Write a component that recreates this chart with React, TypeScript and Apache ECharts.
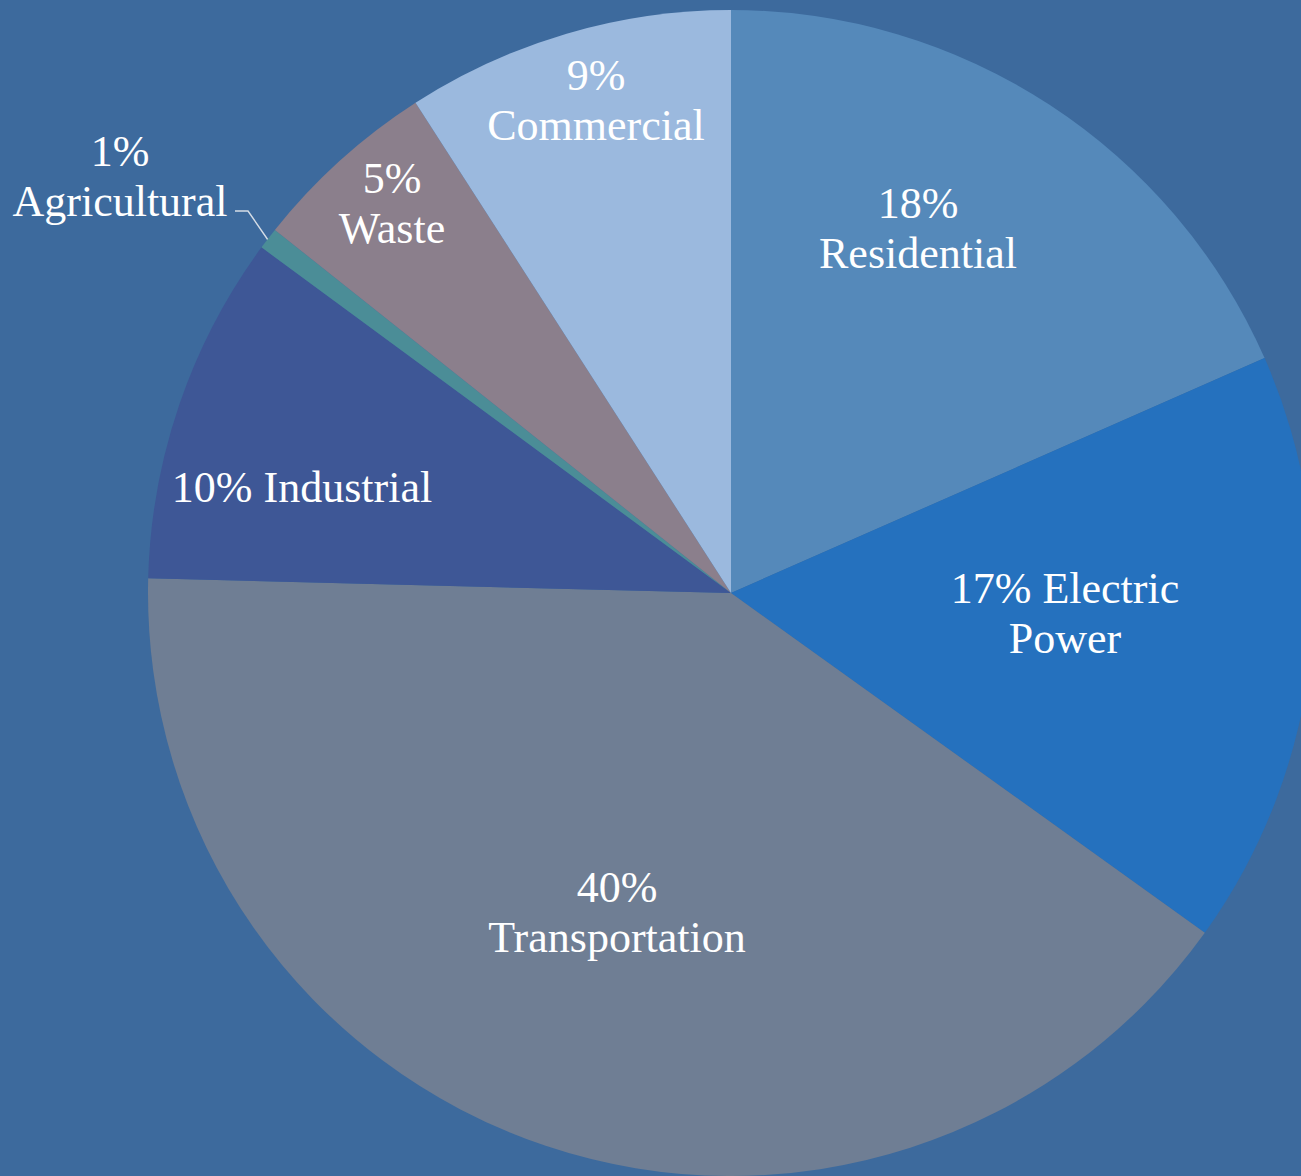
import React, { useEffect, useRef } from "react";
import * as echarts from "echarts";

const categories = ["Residential", "Electric Power", "Transportation", "Industrial", "Agricultural", "Waste", "Commercial"];
const values = [18.4, 16.5, 40.5, 9.7, 0.6, 5.2, 9.1];
const percentLabels = ["18%", "17%", "40%", "10%", "1%", "5%", "9%"];
const nameLabels = ["Residential", "Electric\nPower", "Transportation", "Industrial", "Agricultural", "Waste", "Commercial"];
const labelSeparators = ["\n", " ", "\n", " ", "\n", "\n", "\n"];
const colors = ["#5589ba", "#2571be", "#6f7e94", "#3e5796", "#4b8d97", "#8b7f8c", "#9bb9de"];
// label centre positions (px)
const labelPos: [number, number][] = [
  [918, 228],
  [1065, 613],
  [617, 912],
  [302, 487],
  [120, 176],
  [392, 203],
  [596, 100],
];

export default function App() {
  const ref = useRef<HTMLDivElement>(null);
  useEffect(() => {
    if (!ref.current) return;
    const chart = echarts.init(ref.current, null, { renderer: "svg" });
    const data = categories.map((name, i) => ({
      name,
      value: values[i],
      itemStyle: { color: colors[i] },
      label: {
        position: i === 4 ? "outside" : "inside",
        formatter: percentLabels[i] + labelSeparators[i] + nameLabels[i],
        overflow: "none",
      },
      labelLine: { show: i === 4, lineStyle: { color: "#d5dde6", width: 1.4 } },
    }));
    chart.setOption({
      animation: false,
      backgroundColor: "#3d6a9d",
      series: [
        {
          type: "pie",
          center: [731, 593],
          radius: 583,
          startAngle: 90,
          clockwise: true,
          data,
          label: {
            show: true,
            color: "#ffffff",
            fontFamily: "Liberation Serif",
            fontSize: 44,
            lineHeight: 50,
            align: "center",
            overflow: "none",
            edgeDistance: 0,
          },
          emphasis: { disabled: true },
          labelLayout: (params: any) => {
            const [x, y] = labelPos[params.dataIndex];
            const opt: any = { x, y, align: "center", verticalAlign: "middle" };
            if (params.dataIndex === 4) {
              opt.labelLinePoints = [
                [268, 240],
                [248, 211],
                [235, 211],
              ];
            }
            return opt;
          },
        },
      ],
    });
    return () => chart.dispose();
  }, []);
  return (
    <div
      ref={ref}
      style={{ position: "fixed", left: 0, top: 0, width: 1301, height: 1176 }}
    />
  );
}
